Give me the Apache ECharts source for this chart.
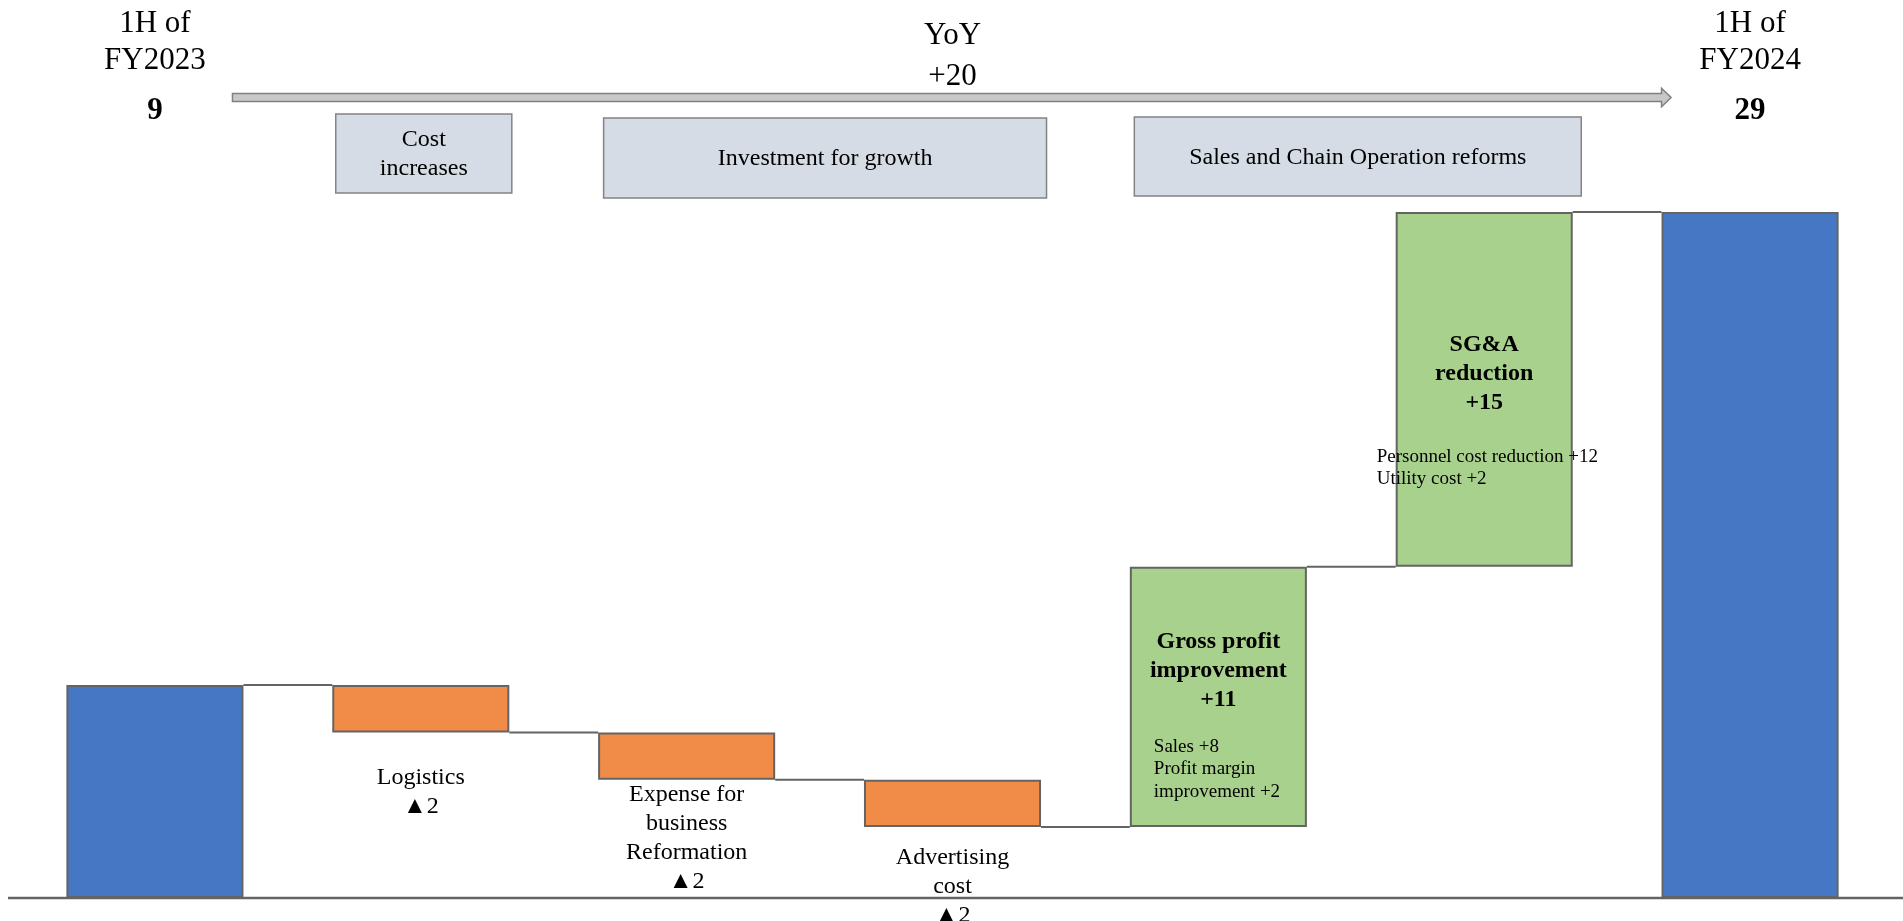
<!DOCTYPE html>
<html>
<head>
<meta charset="utf-8">
<title>Operating profit bridge 1H FY2023 to 1H FY2024</title>
<script src="https://cdn.jsdelivr.net/npm/echarts@6/dist/echarts.min.js"></script>
<style>
  html, body { margin: 0; padding: 0; background: #ffffff; }
  #chart { width: 1903px; height: 921px; }
</style>
</head>
<body>
<div id="chart"></div>
<script>
// ---- data ----
const categories = ['1H of FY2023', 'Logistics', 'Expense for business Reformation', 'Advertising cost',
  'Gross profit improvement', 'SG&A reduction', '1H of FY2024'];
const startValue = 9;
const changes = [-2, -2, -2, 11, 15];
const endValue = 29;
const changeTitles = ['Logistics', 'Expense for\nbusiness\nReformation', 'Advertising\ncost',
  'Gross profit\nimprovement', 'SG&A\nreduction'];
const periodTitles = [['1H of', 'FY2023'], ['1H of', 'FY2024']];
const groupLabels = ['Cost\nincreases', 'Investment for growth', 'Sales and Chain Operation reforms'];
const groupSpans = [[1, 1], [2, 3], [4, 5]];
const grossProfitNotes = ['Sales +8', 'Profit margin', 'improvement +2'];
const sgaNotes = ['Personnel cost reduction +12', 'Utility cost +2'];

// ---- styling ----
const SERIF = '"Liberation Serif", "Times New Roman", serif';
const BAR_RATIO = 0.666;
const COLOR_TOTAL = '#4677C4';
const COLOR_DOWN = '#F08C48';
const COLOR_UP = '#A9D18E';
const EDGE = '#646464';
// label distance from the bar edge, per change bar
const changeLabelDistance = [31, 0, 16, 60, 118];
// header box layout: left/right offsets from the spanned bars, top/bottom in px
const groupBoxLayout = [
  { dx0: 3.5, dx1: 2.5, y0: 114, y1: 193 },
  { dx0: 5.5, dx1: 5.5, y0: 118, y1: 198 },
  { dx0: 4.5, dx1: 8.5, y0: 117, y1: 196 }
];

// running totals: level after each bar
const levels = [startValue];
changes.forEach(c => levels.push(levels[levels.length - 1] + c));
levels.push(endValue);

const helperData = [0];
const valueData = [];
valueData.push({ value: startValue, itemStyle: { color: COLOR_TOTAL } });
changes.forEach((c, i) => {
  const before = levels[i];
  const after = levels[i + 1];
  helperData.push(Math.min(before, after));
  const down = c < 0;
  valueData.push({
    value: Math.abs(c),
    itemStyle: { color: down ? COLOR_DOWN : COLOR_UP },
    label: {
      show: true,
      position: down ? 'bottom' : 'insideTop',
      distance: changeLabelDistance[i],
      formatter: changeTitles[i] + '\n' + (down ? '▲' + Math.abs(c) : '+' + c),
      fontFamily: SERIF,
      fontSize: 24,
      lineHeight: 29,
      fontWeight: down ? 'normal' : 'bold',
      color: '#000000',
      align: 'center'
    }
  });
});
helperData.push(0);
valueData.push({ value: endValue, itemStyle: { color: COLOR_TOTAL } });

const chart = echarts.init(document.getElementById('chart'), null, { renderer: 'canvas' });

chart.setOption({
  animation: false,
  backgroundColor: '#ffffff',
  grid: { left: 22, right: 20, top: 212, bottom: 23, containLabel: false },
  xAxis: {
    type: 'category',
    data: categories,
    axisLine: { show: false },
    axisTick: { show: false },
    axisLabel: { show: false },
    splitLine: { show: false }
  },
  yAxis: {
    type: 'value',
    min: 0,
    max: 29,
    show: false,
    splitLine: { show: false }
  },
  series: [
    {
      name: 'base',
      type: 'bar',
      stack: 'bridge',
      barWidth: (BAR_RATIO * 100) + '%',
      itemStyle: { color: 'transparent', borderWidth: 0 },
      emphasis: { disabled: true },
      data: helperData,
      z: 2
    },
    {
      name: 'value',
      type: 'bar',
      stack: 'bridge',
      barWidth: (BAR_RATIO * 100) + '%',
      itemStyle: { borderColor: EDGE, borderWidth: 2 },
      emphasis: { disabled: true },
      data: valueData,
      z: 3
    },
    {
      name: 'connectors',
      type: 'custom',
      data: levels.slice(0, levels.length - 1).map((v, i) => [i, v]),
      renderItem(params, api) {
        const i = api.value(0);
        const v = api.value(1);
        const band = api.size([1, 0])[0];
        const half = band * BAR_RATIO / 2;
        const p1 = api.coord([i, v]);
        const p2 = api.coord([i + 1, v]);
        return {
          type: 'line',
          shape: { x1: p1[0] + half, y1: p1[1], x2: p2[0] - half, y2: p2[1] },
          style: { stroke: EDGE, lineWidth: 2 }
        };
      },
      z: 4
    }
  ]
});

// ---- annotations placed from the axis scales ----
const xc = i => chart.convertToPixel({ xAxisIndex: 0 }, categories[i]);
const yc = v => chart.convertToPixel({ yAxisIndex: 0 }, v);
const band = xc(1) - xc(0);
const halfBar = band * BAR_RATIO / 2;
const barLeft = i => xc(i) - halfBar;
const barRight = i => xc(i) + halfBar;

function text(x, y, str, font, align) {
  return {
    type: 'text',
    x: x,
    y: y,
    z: 100,
    style: {
      text: str,
      font: font,
      fill: '#000000',
      align: align || 'center',
      verticalAlign: 'middle',
      textAlign: align || 'center',
      textVerticalAlign: 'middle'
    }
  };
}

const graphics = [];

// baseline
const y0 = yc(0);
graphics.push({
  type: 'line', z: 50,
  shape: { x1: 8, y1: y0, x2: 1903, y2: y0 },
  style: { stroke: EDGE, lineWidth: 2.5 }
});

// period headers with their totals
const totals = [startValue, endValue];
[0, categories.length - 1].forEach((idx, k) => {
  const cx = xc(idx);
  graphics.push(text(cx, 24, periodTitles[k][0], '31px ' + SERIF));
  graphics.push(text(cx, 61, periodTitles[k][1], '31px ' + SERIF));
  graphics.push(text(cx, 111, String(totals[k]), 'bold 31px ' + SERIF));
});

// YoY change over the arrow
const yoy = endValue - startValue;
const midX = xc(3);
graphics.push(text(midX, 36, 'YoY', '31px ' + SERIF));
graphics.push(text(midX, 77, (yoy >= 0 ? '+' : '') + yoy, '31px ' + SERIF));

// block arrow from first total to last total
const ax0 = barRight(0) - 11;
const ax1 = barLeft(categories.length - 1);
graphics.push({
  type: 'polygon', z: 40,
  shape: {
    points: [[ax0, 93.5], [ax1, 93.5], [ax1, 88.3], [ax1 + 9.5, 97.5], [ax1, 106.7], [ax1, 101.5], [ax0, 101.5]]
  },
  style: { fill: '#C8C8C8', stroke: '#808080', lineWidth: 1.5 }
});

// group boxes
groupLabels.forEach((label, g) => {
  const span = groupSpans[g];
  const lay = groupBoxLayout[g];
  const left = barLeft(span[0]) + lay.dx0;
  const right = barRight(span[1]) + lay.dx1;
  graphics.push({
    type: 'rect', z: 40,
    shape: { x: left, y: lay.y0, width: right - left, height: lay.y1 - lay.y0 },
    style: { fill: '#D6DCE5', stroke: '#838383', lineWidth: 1.5 }
  });
  const t = text((left + right) / 2, (lay.y0 + lay.y1) / 2 + 1, label, '24px ' + SERIF);
  t.style.lineHeight = 29;
  graphics.push(t);
});

// breakdown notes inside the improvement bars
const gpLeft = barLeft(4) + 24;
grossProfitNotes.forEach((s, k) => {
  graphics.push(text(gpLeft, 747 + k * 22.5, s, '19px ' + SERIF, 'left'));
});
const sgaLeft = barLeft(5) - 19;
sgaNotes.forEach((s, k) => {
  graphics.push(text(sgaLeft, 457 + k * 22, s, '19px ' + SERIF, 'left'));
});

chart.setOption({ graphic: { elements: graphics } });
</script>
</body>
</html>
